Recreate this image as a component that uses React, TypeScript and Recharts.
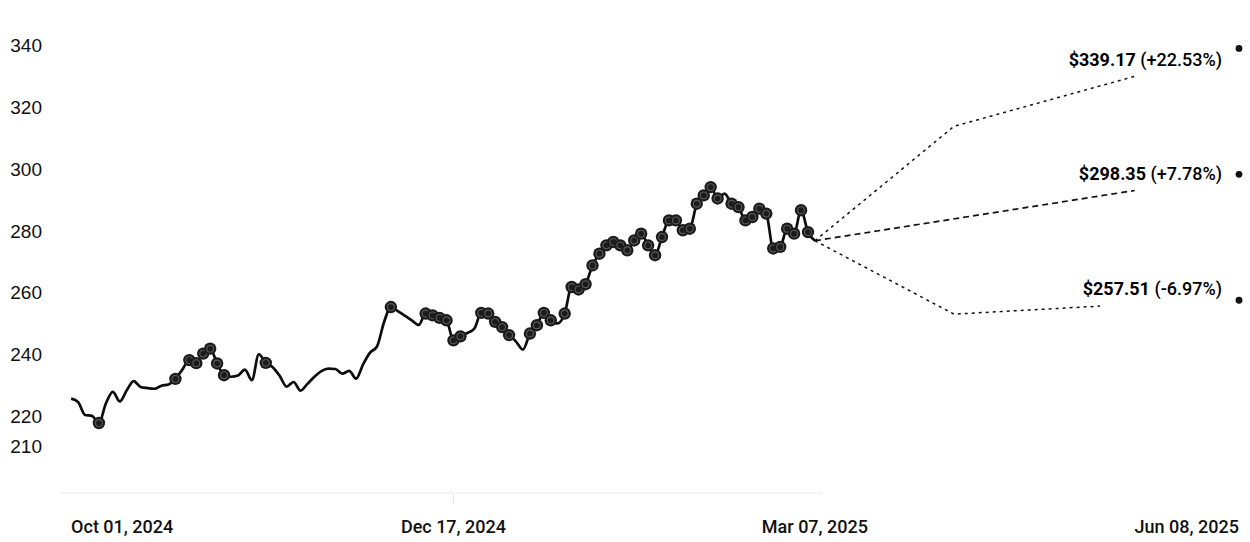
import { ComposedChart, Line, Scatter, XAxis, YAxis, ReferenceLine, LabelList } from 'recharts'

const W = 1250
const H = 542

// daily closes, one per trading day from Oct 01, 2024 to Mar 07, 2025
const closes = [
  225.6, 224.5, 220.3, 220.0, 217.7, 224.0, 227.8, 224.7, 228.3, 231.3,
  229.4, 229.0, 228.8, 229.8, 230.2, 232.0, 235.0, 238.1, 237.1, 240.2,
  241.8, 237.0, 233.2, 232.7, 233.1, 235.0, 231.6, 240.0, 237.2, 235.8,
  233.0, 229.5, 231.0, 228.2, 230.4, 232.7, 234.5, 235.3, 235.2, 233.7,
  234.6, 232.1, 236.7, 240.5, 242.5, 250.3, 255.3, 254.0, 252.5, 251.0,
  249.5, 253.2, 252.6, 251.8, 251.0, 244.5, 245.8, 246.9, 248.3, 253.4,
  253.2, 250.5, 248.8, 246.2, 244.1, 241.5, 246.7, 249.4, 253.4, 251.0,
  250.0, 253.2, 261.8, 261.0, 262.7, 268.8, 272.6, 275.3, 276.4, 275.3,
  273.7, 276.9, 279.1, 275.3, 272.1, 278.0, 283.4, 283.4, 280.2, 280.7,
  288.8, 291.5, 294.2, 290.5, 292.1, 288.8, 287.7, 283.4, 284.5, 287.2,
  285.6, 274.3, 274.8, 280.7, 279.1, 286.7, 279.6, 276.8,
]

// trading days that carry a marker on the price line
const markedDays = [
  4, 15, 17, 18, 19, 20, 21, 22, 28, 46,
  51, 52, 53, 54, 55, 56, 59, 60, 61, 62, 63, 66, 67, 68, 69,
  71, 72, 73, 74, 75, 76, 77, 78, 79, 80, 81, 82, 83, 84, 85, 86, 87, 88, 89,
  90, 91, 92, 93, 95, 96, 97, 98, 99, 100, 101, 102, 103, 104, 105, 106,
]

const dayTicks = [0, 55, 107, 168]
const dayLabels = ['Oct 01, 2024', 'Dec 17, 2024', 'Mar 07, 2025', 'Jun 08, 2025']
const priceTicks = [210, 220, 240, 260, 280, 300, 320, 340]

// forecast paths: trading-day offset and price
const highDays = [107, 127, 153]
const highPrices = [276.8, 313.9, 330.1]
const midDays = [107, 153]
const midPrices = [276.8, 293.1]
const lowDays = [107, 127, 148]
const lowPrices = [276.8, 253.0, 255.6]

const targetDay = 168
const targetPrices = [339.17, 298.35, 257.51]
const targetChanges = ['+22.53%', '+7.78%', '-6.97%']

const marked = new Set(markedDays)
const history = closes.map((v, d) => ({ d, v, marked: marked.has(d) }))
const zip = (days: number[], prices: number[]) => days.map((d, i) => ({ d, v: prices[i] }))
const paths = [
  { key: 'high', data: zip(highDays, highPrices), dash: '3 4', width: 1.5 },
  { key: 'mid', data: zip(midDays, midPrices), dash: '6 4', width: 1.7 },
  { key: 'low', data: zip(lowDays, lowPrices), dash: '3 4', width: 1.5 },
]
const targets = targetPrices.map((v) => ({ d: targetDay, v }))

function DayTick(props: any) {
  const { x, y, payload } = props
  const i = dayTicks.indexOf(payload.value)
  const anchor = i === 0 ? 'start' : i === dayTicks.length - 1 ? 'end' : 'middle'
  const inner = payload.value > 0 && payload.value < closes.length - 1
  return (
    <g>
      {inner && <line x1={x} x2={x} y1={y + 1} y2={y + 10} stroke="#e2e2e2" />}
      <text x={x} y={y + 40} textAnchor={anchor} fontFamily="Roboto" fontWeight={500} fontSize={18} fill="#111">
        {dayLabels[i]}
      </text>
    </g>
  )
}

function PriceTick(props: any) {
  const { x, y, payload } = props
  return (
    <text x={x} y={y} dy="0.35em" textAnchor="end" fontFamily="'Liberation Sans', Arial" fontSize={19} fill="#111">
      {payload.value}
    </text>
  )
}

function MarkerDot(props: any) {
  const { cx, cy, payload, index } = props
  if (!payload?.marked) return <g key={index} />
  return (
    <g key={index}>
      <circle cx={cx} cy={cy} r={6.2} fill="#1b1b1b" />
      <circle cx={cx} cy={cy} r={3.4} fill="none" stroke="#595959" strokeWidth={1.1} />
    </g>
  )
}

function endLabel(k: number, last: number) {
  return (props: any) => {
    const { y, index } = props
    if (index !== last) return null
    return (
      <text key={k} x={W - 28} y={y - 17} dy="0.35em" textAnchor="end" fontFamily="Roboto" fontSize={18} fill="#000">
        <tspan fontWeight={700}>${targetPrices[k].toFixed(2)}</tspan>
        <tspan fontWeight={500}> ({targetChanges[k]})</tspan>
      </text>
    )
  }
}

export default function App() {
  return (
    <div style={{ position: 'absolute', left: 0, top: 0, background: '#fff' }}>
      <ComposedChart width={W} height={H} margin={{ top: 15, right: 11, bottom: 0, left: 0 }}>
        <XAxis
          type="number"
          dataKey="d"
          domain={[-1.6, targetDay]}
          ticks={dayTicks}
          interval={0}
          axisLine={false}
          tickLine={false}
          tickSize={0}
          tickMargin={0}
          height={49}
          tick={<DayTick />}
        />
        <YAxis
          type="number"
          dataKey="v"
          domain={[195, 350]}
          ticks={priceTicks}
          interval={0}
          axisLine={false}
          tickLine={false}
          tickSize={0}
          tickMargin={18}
          width={60}
          tick={<PriceTick />}
        />
        <ReferenceLine
          segment={[{ x: -1.6, y: 195 }, { x: closes.length, y: 195 }]}
          stroke="#ececec"
          strokeWidth={1.2}
          ifOverflow="visible"
        />
        {paths.map((p, k) => (
          <Line
            key={p.key}
            data={p.data}
            dataKey="v"
            type="linear"
            stroke="#111"
            strokeWidth={p.width}
            strokeDasharray={p.dash}
            dot={false}
            activeDot={false}
            isAnimationActive={false}
          >
            <LabelList dataKey="v" content={endLabel(k, p.data.length - 1)} />
          </Line>
        ))}
        <Line
          data={history}
          dataKey="v"
          type="monotone"
          stroke="#0d0d0d"
          strokeWidth={2.7}
          dot={<MarkerDot />}
          activeDot={false}
          isAnimationActive={false}
        />
        <Scatter
          data={targets}
          dataKey="v"
          fill="#111"
          isAnimationActive={false}
          shape={(p: any) => <circle cx={p.cx} cy={p.cy} r={3.4} fill="#111" />}
        />
      </ComposedChart>
    </div>
  )
}
